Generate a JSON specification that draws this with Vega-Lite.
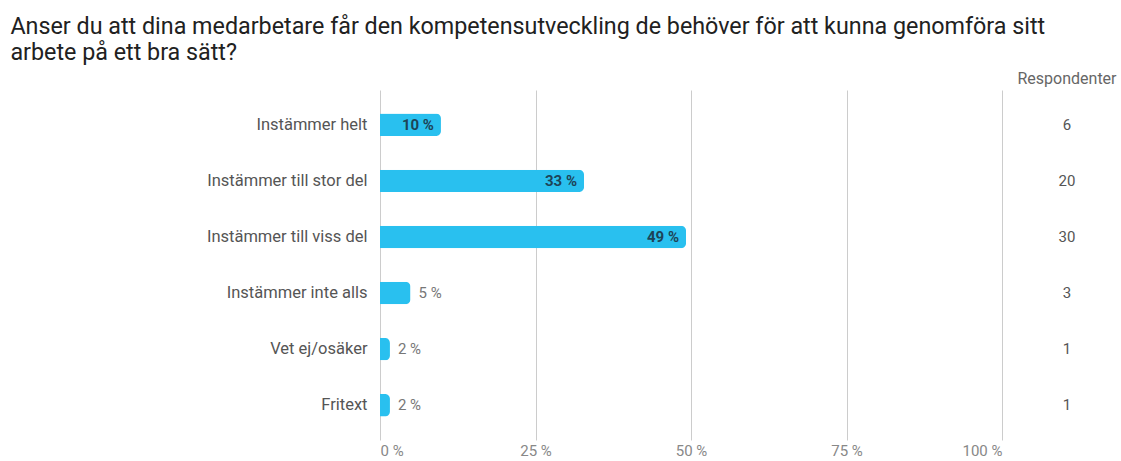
{
  "$schema": "https://vega.github.io/schema/vega-lite/v6.json",
  "padding": {"left": 10, "top": 14, "right": 0, "bottom": 0},
  "background": "white",
  "config": {
    "font": "Roboto",
    "view": {"stroke": null},
    "concat": {"spacing": 15}
  },
  "title": {
    "text": ["Anser du att dina medarbetare får den kompetensutveckling de behöver för att kunna genomföra sitt", "arbete på ett bra sätt?"],
    "anchor": "start",
    "fontSize": 23.3,
    "fontWeight": "normal",
    "color": "#212121",
    "lineHeight": 26,
    "offset": 6,
    "frame": "bounds",
    "dx": -196
  },
  "data": {
    "values": [
      {"svar": "Instämmer helt", "andel": 9.8, "etikett": "10 %", "antal": 6},
      {"svar": "Instämmer till stor del", "andel": 32.8, "etikett": "33 %", "antal": 20},
      {"svar": "Instämmer till viss del", "andel": 49.2, "etikett": "49 %", "antal": 30},
      {"svar": "Instämmer inte alls", "andel": 4.9, "etikett": "5 %", "antal": 3},
      {"svar": "Vet ej/osäker", "andel": 1.6, "etikett": "2 %", "antal": 1},
      {"svar": "Fritext", "andel": 1.6, "etikett": "2 %", "antal": 1}
    ]
  },
  "hconcat": [
    {
      "width": 622,
      "height": 350,
      "encoding": {
        "y": {
          "field": "svar",
          "type": "nominal",
          "sort": null,
          "scale": {"type": "band", "paddingInner": 0.6, "paddingOuter": 0.42},
          "axis": {"title": null, "domain": false, "ticks": false, "labelPadding": 13, "labelFontSize": 16.5, "labelColor": "#555555", "labelLimit": 300}
        },
        "x": {
          "field": "andel",
          "type": "quantitative",
          "scale": {"domain": [0, 100], "nice": false},
          "axis": {"title": null, "values": [0, 25, 50, 75, 100], "labelExpr": "datum.value + ' %'", "domain": false, "ticks": false, "grid": true, "gridColor": "#cccccc", "labelFlush": true, "labelFontSize": 15, "labelColor": "#888888", "labelPadding": 3}
        }
      },
      "layer": [
        {
          "mark": {"type": "bar", "color": "#29C0EF", "cornerRadiusEnd": 5}
        },
        {
          "transform": [{"filter": "datum.andel >= 8"}],
          "mark": {"type": "text", "align": "right", "dx": -7, "fontSize": 15, "fontWeight": "bold", "color": "#1d4458"},
          "encoding": {"text": {"field": "etikett"}}
        },
        {
          "transform": [{"filter": "datum.andel < 8"}],
          "mark": {"type": "text", "align": "left", "dx": 8, "fontSize": 15, "color": "#777777"},
          "encoding": {"text": {"field": "etikett"}}
        }
      ]
    },
    {
      "width": 100,
      "height": 350,
      "title": {"text": "Respondenter", "fontSize": 16, "fontWeight": "normal", "color": "#666666", "offset": 3, "anchor": "middle"},
      "mark": {"type": "text", "fontSize": 15, "color": "#555555"},
      "encoding": {
        "y": {
          "field": "svar",
          "type": "nominal",
          "sort": null,
          "scale": {"type": "band", "paddingInner": 0.6, "paddingOuter": 0.42},
          "axis": null
        },
        "text": {"field": "antal"}
      }
    }
  ]
}
